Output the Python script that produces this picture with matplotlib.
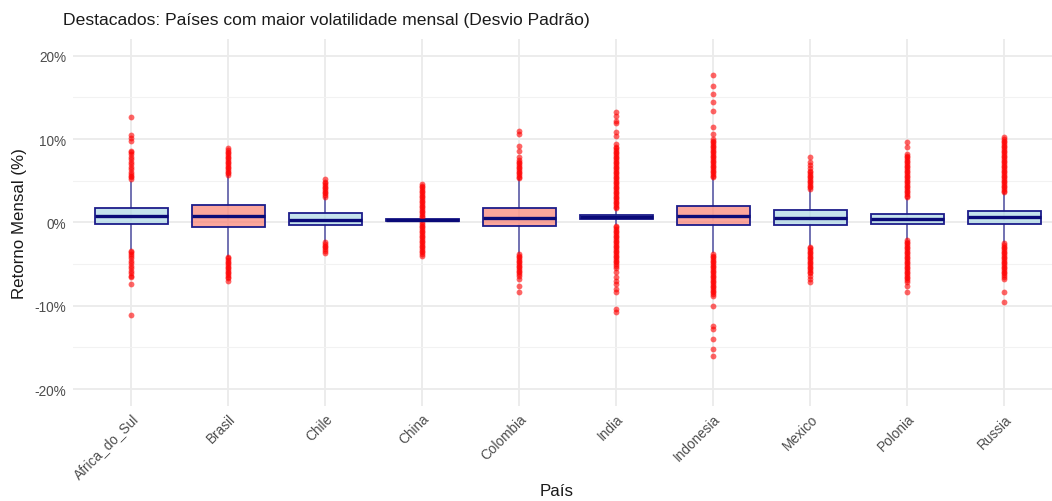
import matplotlib
matplotlib.use("Agg")
import matplotlib.pyplot as plt
from matplotlib.ticker import FuncFormatter, MultipleLocator

plt.rcParams["font.family"] = ["Liberation Sans", "DejaVu Sans"]

countries = ["Africa_do_Sul", "Brasil", "Chile", "China", "Colombia",
             "India", "Indonesia", "Mexico", "Polonia", "Russia"]
highlight = [False, True, False, False, True, False, True, False, False, False]

# box stats, monthly return in %
q1 = [-0.24, -0.52, -0.36, 0.18, -0.44, 0.36, -0.36, -0.28, -0.24, -0.20]
med = [0.76, 0.80, 0.28, 0.30, 0.56, 0.62, 0.80, 0.56, 0.36, 0.68]
q3 = [1.76, 2.04, 1.08, 0.40, 1.76, 0.88, 1.92, 1.48, 1.04, 1.32]
whis_lo = [-3.24, -4.0, -2.24, 0.05, -3.72, -0.24, -3.6, -2.72, -1.96, -2.36]
whis_hi = [4.8, 5.56, 2.96, 0.55, 5.16, 1.6, 5.3, 3.88, 2.84, 3.48]

# outliers
out_africa = [12.6, 10.5, 10.1, 9.8, 8.6, 8.4, 8.2, 7.9, 7.6, 7.3, 7.0, 6.7, 6.4,
              6.1, 5.8, 5.6, 5.4, 5.2,
              -3.4, -3.6, -3.8, -4.0, -4.3, -4.6, -4.9, -5.2, -5.5, -5.8, -6.1,
              -6.4, -6.6, -7.4, -11.1]
out_brasil = [5.7, 5.9, 6.1, 6.3, 6.5, 6.7, 6.9, 7.1, 7.3, 7.5, 7.7, 7.9, 8.1,
              8.3, 8.5, 8.7, 8.9,
              -4.1, -4.3, -4.5, -4.7, -4.9, -5.1, -5.3, -5.5, -5.7, -5.9, -6.1,
              -6.3, -6.5, -6.7, -7.0]
out_chile = [3.1, 3.3, 3.5, 3.7, 3.9, 4.1, 4.3, 4.5, 4.7, 4.9, 5.2,
             -2.4, -2.6, -2.8, -3.0, -3.2, -3.4, -3.7]
out_china = [0.6, 0.8, 1.0, 1.2, 1.4, 1.6, 1.8, 2.0, 2.2, 2.4, 2.6, 2.8, 3.0,
             3.2, 3.4, 3.6, 3.8, 4.0, 4.2, 4.4, 4.6,
             0.0, -0.2, -0.4, -0.6, -0.8, -1.0, -1.2, -1.4, -1.6, -1.8, -2.0,
             -2.2, -2.4, -2.6, -2.8, -3.0, -3.2, -3.4, -3.6, -3.8, -4.0]
out_colombia = [5.3, 5.5, 5.7, 5.9, 6.1, 6.3, 6.5, 6.7, 6.9, 7.1, 7.3, 7.5, 7.8,
                8.6, 9.2, 10.6, 11.0,
                -3.8, -4.0, -4.2, -4.4, -4.6, -4.8, -5.0, -5.2, -5.4, -5.6,
                -5.8, -6.0, -6.2, -6.4, -6.8, -7.6, -8.4]
out_india = [1.7, 1.9, 2.1, 2.3, 2.5, 2.7, 2.9, 3.1, 3.3, 3.5, 3.7, 3.9, 4.1,
             4.3, 4.5, 4.7, 4.9, 5.1, 5.3, 5.5, 5.7, 5.9, 6.1, 6.3, 6.5, 6.7,
             6.9, 7.1, 7.3, 7.5, 7.7, 7.9, 8.1, 8.3, 8.5, 8.7, 8.9, 9.1, 9.4,
             10.4, 10.8, 11.9, 12.2, 12.8, 13.2,
             -0.4, -0.6, -0.8, -1.0, -1.2, -1.4, -1.6, -1.8, -2.0, -2.2, -2.4,
             -2.6, -2.8, -3.0, -3.2, -3.4, -3.6, -3.8, -4.0, -4.2, -4.4, -4.6,
             -4.8, -5.0, -5.2, -5.5, -6.0, -6.6, -7.0, -7.4, -8.0, -8.4,
             -10.4, -10.8]
out_indonesia = [5.4, 5.6, 5.8, 6.0, 6.2, 6.4, 6.6, 6.8, 7.0, 7.2, 7.4, 7.6, 7.8,
                 8.0, 8.2, 8.4, 8.6, 8.8, 9.0, 9.2, 9.4, 9.6, 9.8, 10.0, 10.6,
                 11.4, 13.4, 14.4, 15.4, 16.4, 17.7,
                 -3.8, -4.0, -4.2, -4.4, -4.6, -4.8, -5.0, -5.2, -5.4, -5.6,
                 -5.8, -6.0, -6.2, -6.4, -6.6, -6.8, -7.0, -7.2, -7.4, -7.6,
                 -7.8, -8.0, -8.2, -8.4, -8.6, -8.85, -10.0, -12.4, -12.8,
                 -14.0, -15.2, -16.0]
out_mexico = [4.0, 4.2, 4.4, 4.6, 4.8, 5.0, 5.2, 5.4, 5.6, 5.8, 6.0, 6.2, 6.5,
              6.9, 7.3, 7.8,
              -2.9, -3.1, -3.3, -3.5, -3.7, -3.9, -4.1, -4.3, -4.5, -4.7, -4.9,
              -5.1, -5.3, -5.5, -5.7, -5.9, -6.1, -6.4, -6.8, -7.2]
out_polonia = [3.0, 3.2, 3.4, 3.6, 3.8, 4.0, 4.2, 4.4, 4.6, 4.8, 5.0, 5.2, 5.4,
               5.6, 5.8, 6.0, 6.2, 6.4, 6.6, 6.8, 7.0, 7.2, 7.4, 7.6, 7.8, 8.0,
               8.2, 9.0, 9.6,
               -2.1, -2.3, -2.5, -2.7, -2.9, -3.1, -3.3, -3.5, -3.7, -3.9, -4.1,
               -4.3, -4.5, -4.7, -4.9, -5.1, -5.3, -5.5, -5.7, -5.9, -6.1, -6.3,
               -6.5, -6.7, -6.9, -7.2, -7.6, -8.4]
out_russia = [3.6, 3.8, 4.0, 4.2, 4.4, 4.6, 4.8, 5.0, 5.2, 5.4, 5.6, 5.8, 6.0,
              6.2, 6.4, 6.6, 6.8, 7.0, 7.2, 7.4, 7.6, 7.8, 8.0, 8.2, 8.4, 8.6,
              8.8, 9.0, 9.2, 9.4, 9.6, 9.8, 10.0, 10.2,
              -2.5, -2.7, -2.9, -3.1, -3.3, -3.5, -3.7, -3.9, -4.1, -4.3, -4.5,
              -4.7, -4.9, -5.1, -5.3, -5.5, -5.7, -5.9, -6.1, -6.3, -6.5, -6.8,
              -8.4, -9.6]

outliers = [out_africa, out_brasil, out_chile, out_china, out_colombia,
            out_india, out_indonesia, out_mexico, out_polonia, out_russia]

stats = []
for i, name in enumerate(countries):
    stats.append(dict(label=name, q1=q1[i], med=med[i], q3=q3[i],
                      whislo=whis_lo[i], whishi=whis_hi[i], fliers=outliers[i]))

fig = plt.figure(figsize=(10.52, 5.02), dpi=100)
ax = fig.add_axes([73 / 1052, 1 - 406.7 / 502, 1 - 73 / 1052, (406.7 - 40) / 502])

edge = "#1c1c8a"
bp = ax.bxp(stats, positions=range(1, len(countries) + 1), widths=0.75,
            patch_artist=True, showfliers=True, manage_ticks=False,
            boxprops=dict(edgecolor=edge, linewidth=1.3),
            whiskerprops=dict(color=edge, linewidth=1.1, alpha=0.75),
            capprops=dict(linewidth=0),
            medianprops=dict(color="#0a0a78", linewidth=2.4),
            flierprops=dict(marker="o", markerfacecolor="red", markeredgewidth=0,
                            markersize=4.2, alpha=0.6, linestyle="none"))
for patch, hl in zip(bp["boxes"], highlight):
    patch.set_facecolor("#FA8072" if hl else "#ADD8E6")
    patch.set_alpha(None)
    fc = patch.get_facecolor()
    patch.set_facecolor((fc[0], fc[1], fc[2], 0.7))
for w in bp["whiskers"]:
    w.set_zorder(1.5)

ax.set_xlim(0.4, 10.49)
ax.set_ylim(-22.0, 22.0)
ax.set_xticks(range(1, len(countries) + 1))
ax.set_xticklabels(countries, rotation=45, ha="right", rotation_mode="anchor",
                   color="#4D4D4D", fontsize=9.8)
ax.yaxis.set_major_locator(MultipleLocator(10))
ax.yaxis.set_minor_locator(MultipleLocator(5))
ax.yaxis.set_major_formatter(FuncFormatter(lambda v, p: f"{v:.0f}%"))
ax.tick_params(axis="y", labelcolor="#4D4D4D", labelsize=9.8, length=0, pad=5)
ax.tick_params(axis="x", length=0, pad=4)
ax.tick_params(which="minor", length=0)

ax.grid(True, which="major", color="#EBEBEB", linewidth=1.3)
ax.grid(True, which="minor", axis="y", color="#F2F2F2", linewidth=0.8)
ax.set_axisbelow(True)
for s in ax.spines.values():
    s.set_visible(False)

ax.set_ylabel("Retorno Mensal (%)", fontsize=12.2, color="#1a1a1a", labelpad=5)
fig.text(557 / 1052, 1 - 492 / 502, "País", fontsize=12.2, color="#1a1a1a",
         ha="center", va="center")
fig.text(63 / 1052, 1 - 21 / 502, "Destacados: Países com maior volatilidade mensal (Desvio Padrão)",
         fontsize=12.6, color="#1a1a1a", ha="left", va="center")

plt.savefig("out.png", dpi=100)
